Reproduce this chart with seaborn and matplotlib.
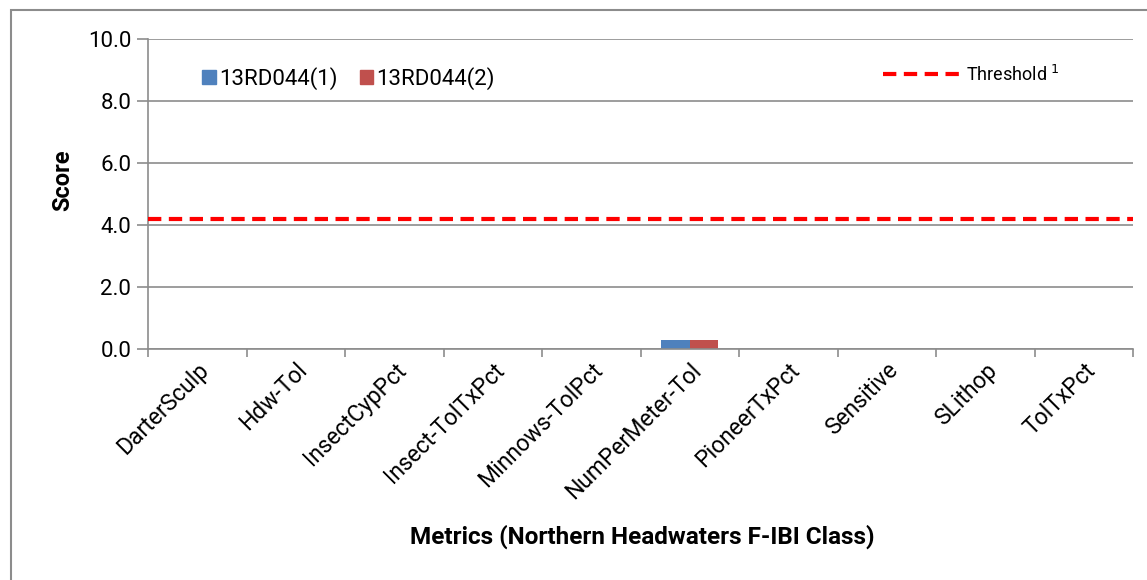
import matplotlib
matplotlib.use("Agg")

import matplotlib.pyplot as plt
import matplotlib.patches as mpatches
from matplotlib.lines import Line2D
import numpy as np
import pandas as pd
import seaborn as sns

METRICS = [
    "DarterSculp", "Hdw-Tol", "InsectCypPct", "Insect-TolTxPct",
    "Minnows-TolPct", "NumPerMeter-Tol", "PioneerTxPct", "Sensitive",
    "SLithop", "TolTxPct",
]
SITE_1 = [0.0, 0.0, 0.0, 0.0, 0.0, 0.3, 0.0, 0.0, 0.0, 0.0]
SITE_2 = [0.0, 0.0, 0.0, 0.0, 0.0, 0.3, 0.0, 0.0, 0.0, 0.0]
SERIES = ["13RD044(1)", "13RD044(2)"]
THRESHOLD = 4.2
Y_TICKS = [0.0, 2.0, 4.0, 6.0, 8.0, 10.0]

COLORS = {"13RD044(1)": "#4F81BD", "13RD044(2)": "#C0504D"}

sns.set_style("white")
plt.rcParams["font.family"] = ["Roboto", "DejaVu Sans"]
plt.rcParams["text.color"] = "black"
plt.rcParams["xtick.color"] = "black"
plt.rcParams["ytick.color"] = "black"
plt.rcParams["axes.labelcolor"] = "black"

df = pd.DataFrame({
    "metric": METRICS * 2,
    "score": SITE_1 + SITE_2,
    "site": [SERIES[0]] * len(METRICS) + [SERIES[1]] * len(METRICS),
})

fig = plt.figure(figsize=(11.47, 5.8), dpi=100)
ax = fig.add_axes([148 / 1147, 1 - 349 / 580, (1133 - 148) / 1147, 310 / 580])

sns.barplot(data=df, x="metric", y="score", hue="site", palette=COLORS,
            width=0.58, saturation=1, ax=ax, legend=False, linewidth=0,
            gap=0)

ax.axhline(THRESHOLD, color="#FF0000", lw=3, ls=(0, (3.2, 1.8)), zorder=5)

ax.set_ylim(0, 10)
ax.set_xlim(-0.5, len(METRICS) - 0.5)
ax.set_yticks(Y_TICKS)
ax.set_yticklabels([f"{v:.1f}" for v in Y_TICKS], fontsize=16)
ax.yaxis.grid(True, color="#8C8C8C", lw=1.2)
ax.set_axisbelow(True)
for s in ["top", "right"]:
    ax.spines[s].set_visible(False)
for s in ["left", "bottom"]:
    ax.spines[s].set_color("#8C8C8C")
    ax.spines[s].set_linewidth(1.2)
ax.tick_params(axis="y", length=8, width=1.2, color="#8C8C8C", pad=4, left=True,
               labelcolor="black")

ax.set_xticks(np.arange(len(METRICS)))
ax.set_xticklabels(METRICS, rotation=45, ha="right", rotation_mode="anchor",
                   fontsize=16.5)
ax.tick_params(axis="x", length=0, pad=7, labelcolor="black")
ax.set_xticks(np.arange(len(METRICS) + 1) - 0.5, minor=True)
ax.tick_params(axis="x", which="minor", length=6, width=1.2, color="#8C8C8C",
               bottom=True)

ax.set_xlabel("Metrics (Northern Headwaters F-IBI Class)", fontsize=17.5,
              fontweight="bold", va="center")
ax.xaxis.set_label_coords(0.502, -0.606)
ax.set_ylabel("Score", fontsize=17, fontweight="bold", va="center")
ax.yaxis.set_label_coords(-0.087, 0.545)

bar_handles = [mpatches.Patch(color=COLORS[s], label=s) for s in SERIES]
leg1 = ax.legend(handles=bar_handles, loc="upper left", bbox_to_anchor=(0.035, 0.975),
                 ncol=2, frameon=False, fontsize=16, handlelength=0.6,
                 handleheight=0.6, handletextpad=0.15, columnspacing=1.0)
ax.add_artist(leg1)
thr_handle = [Line2D([0], [0], color="#FF0000", lw=3, ls=(0, (3.2, 1.8)),
                     label="Threshold $^{1}$")]
ax.legend(handles=thr_handle, loc="upper left", bbox_to_anchor=(0.73, 0.97),
          frameon=False, fontsize=13, handlelength=4.2, handletextpad=0.4)

fig.patches.append(mpatches.Rectangle((11 / 1147, -0.5), 1.5, 1.5 - 10 / 580,
                                      transform=fig.transFigure, fill=False,
                                      edgecolor="#8C8C8C", lw=1.5))

fig.savefig("out.png", dpi=100)
